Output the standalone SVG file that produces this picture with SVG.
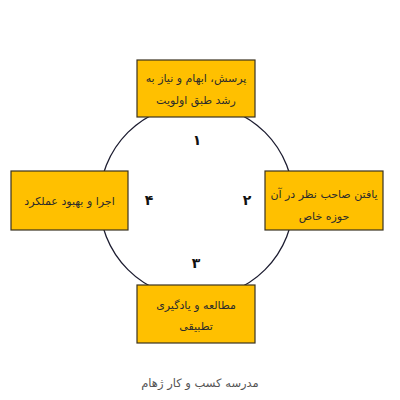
<svg xmlns="http://www.w3.org/2000/svg" width="400" height="400" viewBox="0 0 400 400">
<style>
.box{fill:#FFC000;stroke:#3a3320;stroke-width:1.2}
.t{font-family:"DejaVu Sans","Noto Sans",sans-serif;font-size:11px;fill:#2b2b2b;text-anchor:middle;direction:rtl}
.n{font-family:"DejaVu Sans","Noto Sans",sans-serif;font-size:14px;font-weight:bold;fill:#111;text-anchor:middle}
.cap{font-family:"DejaVu Sans","Noto Sans",sans-serif;font-size:11.5px;fill:#555;text-anchor:middle;direction:rtl}
</style>
<rect width="400" height="400" fill="#fff"/>
<g id="connectors">
<circle cx="196.5" cy="201" r="97" fill="none" stroke="#1c1c30" stroke-width="1.3"/>
</g>
<g id="labels">
<text class="n" x="197" y="145">۱</text>
<text class="n" x="247" y="205">۲</text>
<text class="n" x="196" y="268">۳</text>
<text class="n" x="149" y="205">۴</text>
</g>
<g id="node1">
<rect class="box" x="137" y="60" width="118" height="57"/>
<text class="t" x="196" y="82">پرسش، ابهام و نیاز به</text>
<text class="t" x="196" y="104">رشد طبق اولویت</text>
</g>
<g id="node2">
<rect class="box" x="265" y="171" width="118" height="59"/>
<text class="t" x="324" y="198">یافتن صاحب نظر در آن</text>
<text class="t" x="324" y="220">حوزه خاص</text>
</g>
<g id="node3">
<rect class="box" x="137" y="285" width="118" height="58"/>
<text class="t" x="196" y="309">مطالعه و یادگیری</text>
<text class="t" x="196" y="330">تطبیقی</text>
</g>
<g id="node4">
<rect class="box" x="11" y="171" width="117" height="59"/>
<text class="t" x="69.5" y="205">اجرا و بهبود عملکرد</text>
</g>
<text class="cap" x="200" y="387">مدرسه کسب و کار ژهام</text>
</svg>
